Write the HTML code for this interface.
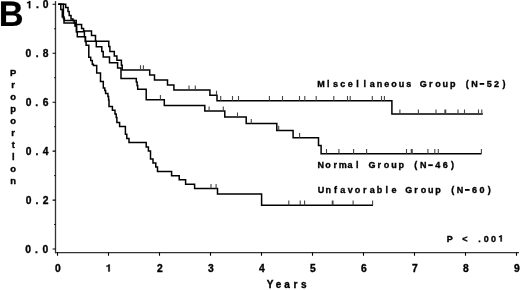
<!DOCTYPE html>
<html><head><meta charset="utf-8"><style>
html,body{margin:0;padding:0;background:#fff;}
svg{display:block;will-change:transform;}
path.g1{fill:#000;stroke:#000;stroke-width:0.35px;stroke-linejoin:round;}
text{font-family:"Liberation Sans",sans-serif;font-weight:bold;fill:#000;stroke:#000;stroke-width:0.35px;}
</style></head><body>
<svg width="520" height="290" viewBox="0 0 520 290">
<rect width="520" height="290" fill="#fff"/>
<text transform="translate(-1.2,25.6) scale(0.97,1)" style="font-size:35.5px;stroke-width:0.2px;text-rendering:geometricPrecision">B</text>
<g fill="none" stroke="#000" stroke-linejoin="miter" stroke-linecap="butt">
<path d="M55.5,1 V253.2" stroke-width="1.3" stroke="#333"/>
<path d="M55,252.6 H519" stroke-width="1.4" stroke="#333"/>
<path d="M52.6,249.0 H55.5 M52.6,200.1 H55.5 M52.6,151.1 H55.5 M52.6,102.2 H55.5 M52.6,53.2 H55.5 M52.6,4.3 H55.5" stroke-width="1.1"/>
<path d="M54.2,224.5 H55.5 M54.2,175.6 H55.5 M54.2,126.7 H55.5 M54.2,77.7 H55.5 M54.2,28.8 H55.5" stroke-width="1"/>
<path d="M57.5,252.5 V255.8 M108.5,252.5 V255.8 M159.5,252.5 V255.8 M210.5,252.5 V255.8 M261.5,252.5 V255.8 M312.5,252.5 V255.8 M363.5,252.5 V255.8 M414.5,252.5 V255.8 M465.5,252.5 V255.8 M516.5,252.5 V255.8" stroke-width="1.1"/>
<path d="M58.2,4.3 L65.7,4.3 L65.7,7.5 L68.0,7.5 L68.0,11.4 L69.2,11.4 L69.2,15.4 L71.0,15.4 L71.0,18.9 L73.0,18.9 L73.0,20.6 L76.2,20.6 L76.2,24.5 L81.6,24.5 L81.6,28.4 L83.6,28.4 L83.6,30.9 L91.5,30.9 L91.5,35.5 L95.5,35.5 L95.5,41.3 L108.8,41.3 L108.8,46.4 L109.9,46.4 L109.9,51.5 L114.3,51.5 L114.3,56.0 L116.9,56.0 L116.9,60.3 L121.4,60.3 L121.4,65.2 L122.2,65.2 L122.2,69.9 L149.7,69.9 L149.7,74.9 L154.5,74.9 L154.5,80.0 L167.5,80.0 L167.5,85.1 L173.9,85.1 L173.9,90.1 L209.9,90.1 L209.9,95.3 L217.0,95.3 L217.0,100.7 L391.9,100.7 L391.9,114.1 L482.8,114.1" stroke-width="1.5"/>
<path d="M58.2,4.3 L63.4,4.3 L63.4,18.6 L64.4,18.6 L64.4,20.6 L74.2,20.6 L74.2,23.0 L75.2,23.0 L75.2,26.0 L76.5,26.0 L76.5,31.8 L84.4,31.8 L84.4,36.8 L85.3,36.8 L85.3,41.3 L96.3,41.3 L96.3,46.8 L101.8,46.8 L101.8,51.5 L103.2,51.5 L103.2,56.9 L109.5,56.9 L109.5,62.7 L117.6,62.7 L117.6,68.1 L121.0,68.1 L121.0,78.4 L136.3,78.4 L136.3,82.0 L137.1,82.0 L137.1,85.5 L137.7,85.5 L137.7,89.3 L146.2,89.3 L146.2,99.7 L164.3,99.7 L164.3,105.6 L204.8,105.6 L204.8,110.9 L224.8,110.9 L224.8,117.0 L246.2,117.0 L246.2,123.5 L276.8,123.5 L276.8,130.4 L293.1,130.4 L293.1,137.7 L318.5,137.7 L318.5,145.4 L321.1,145.4 L321.1,153.7 L481.5,153.7" stroke-width="1.5"/>
<path d="M58.2,4.3 L60.8,4.3 L60.8,9.5 L62.3,9.5 L62.3,17.0 L64.0,17.0 L64.0,23.0 L75.2,23.0 L75.2,26.0 L76.5,26.0 L76.5,31.8 L77.3,31.8 L77.3,36.8 L85.5,36.8 L85.5,41.7 L86.1,41.7 L86.1,45.2 L88.8,45.2 L88.8,57.2 L90.7,57.2 L90.7,60.6 L92.3,60.6 L92.3,64.3 L93.4,64.3 L93.4,65.6 L96.7,65.6 L96.7,73.1 L100.5,73.1 L100.5,81.4 L103.3,81.4 L103.3,88.0 L104.8,88.0 L104.8,90.6 L105.6,90.6 L105.6,93.6 L107.9,93.6 L107.9,96.6 L108.6,96.6 L108.6,100.0 L109.0,100.0 L109.0,106.4 L112.4,106.4 L112.4,110.2 L115.0,110.2 L115.0,113.9 L116.2,113.9 L116.2,117.5 L116.9,117.5 L116.9,122.6 L119.6,122.6 L119.6,126.4 L125.4,126.4 L125.4,134.2 L126.8,134.2 L126.8,138.5 L129.0,138.5 L129.0,142.6 L146.2,142.6 L146.2,147.1 L148.4,147.1 L148.4,151.0 L150.5,151.0 L150.5,159.0 L153.0,159.0 L153.0,163.0 L155.8,163.0 L155.8,166.9 L157.5,166.9 L157.5,171.6 L171.6,171.6 L171.6,175.7 L179.2,175.7 L179.2,179.8 L185.6,179.8 L185.6,184.3 L194.6,184.3 L194.6,188.6 L217.5,188.6 L217.5,194.1 L261.6,194.1 L261.6,205.2 L373.0,205.2" stroke-width="1.5"/>
<path d="M140.5,69.9 V65.3 M143.4,69.9 V65.3 M189.0,90.1 V85.5 M195.3,90.1 V85.5 M216.5,95.3 V90.7 M220.7,100.7 V96.1 M232.5,100.7 V96.1 M238.5,100.7 V96.1 M269.4,100.7 V96.1 M282.5,100.7 V96.1 M299.5,100.7 V96.1 M304.8,100.7 V96.1 M316.2,100.7 V96.1 M333.8,100.7 V96.1 M347.5,100.7 V96.1 M350.2,100.7 V96.1 M372.3,100.7 V96.1 M381.5,100.7 V96.1 M384.4,100.7 V96.1 M399.9,114.1 V109.5 M418.4,114.1 V109.5 M436.0,114.1 V109.5 M444.9,114.1 V109.5 M445.7,114.1 V109.5 M458.0,114.1 V109.5 M464.5,114.1 V109.5 M478.5,114.1 V109.5 M481.8,114.1 V109.5 M160.4,99.7 V95.1 M209.1,111.0 V106.4 M223.3,111.0 V106.4 M237.5,117.0 V112.4 M251.3,123.5 V118.9 M278.7,130.4 V125.8 M299.6,137.7 V133.1 M326.5,153.7 V149.1 M338.9,153.7 V149.1 M353.6,153.7 V149.1 M366.6,153.7 V149.1 M406.5,153.7 V149.1 M411.3,153.7 V149.1 M412.2,153.7 V149.1 M427.9,153.7 V149.1 M434.8,153.7 V149.1 M438.3,153.7 V149.1 M481.4,153.7 V149.1 M211.0,188.6 V184.0 M216.1,188.6 V184.0 M288.8,205.2 V200.6 M300.2,205.2 V200.6 M304.6,205.2 V200.6 M332.3,205.2 V200.6 M333.0,205.2 V200.6 M353.1,205.2 V200.6 M372.6,205.2 V200.6" stroke-width="1.1" stroke="#444"/>
</g>
<text x="28.05 36.35 45.30" y="252.9" text-anchor="middle" style="font-size:10.3px">0.0</text>
<text x="28.50 36.90 45.50" y="204.0" text-anchor="middle" style="font-size:10.3px">0.2</text>
<text x="28.50 36.90 45.50" y="155.0" text-anchor="middle" style="font-size:10.3px">0.4</text>
<text x="28.60 36.75 45.60" y="106.1" text-anchor="middle" style="font-size:10.3px">0.6</text>
<text x="28.45 37.25 45.50" y="57.1" text-anchor="middle" style="font-size:10.3px">0.8</text>
<path class="g1" d="M28.91,8.20 L30.25,8.20 L30.25,1.09 L29.22,1.09 L28.91,1.61 L28.29,2.02 L27.05,2.33 L27.05,3.26 L28.91,2.95 Z"/>
<text x="37.40 45.60" y="8.2" text-anchor="middle" style="font-size:10.3px">.0</text>
<text x="57.90" y="271.6" text-anchor="middle" style="font-size:10.3px">0</text>
<path class="g1" d="M108.36,271.60 L109.70,271.60 L109.70,264.49 L108.67,264.49 L108.36,265.01 L107.74,265.42 L106.50,265.73 L106.50,266.66 L108.36,266.35 Z"/>
<text x="159.90" y="271.6" text-anchor="middle" style="font-size:10.3px">2</text>
<text x="210.90" y="271.6" text-anchor="middle" style="font-size:10.3px">3</text>
<text x="261.90" y="271.6" text-anchor="middle" style="font-size:10.3px">4</text>
<text x="312.90" y="271.6" text-anchor="middle" style="font-size:10.3px">5</text>
<text x="363.90" y="271.6" text-anchor="middle" style="font-size:10.3px">6</text>
<text x="414.90" y="271.6" text-anchor="middle" style="font-size:10.3px">7</text>
<text x="465.90" y="271.6" text-anchor="middle" style="font-size:10.3px">8</text>
<text x="516.90" y="271.6" text-anchor="middle" style="font-size:10.3px">9</text>
<text x="13.20" y="76.20" text-anchor="middle" style="font-size:9.4px">P</text>
<text x="13.20" y="88.15" text-anchor="middle" style="font-size:9.4px">r</text>
<text x="13.20" y="100.10" text-anchor="middle" style="font-size:9.4px">o</text>
<text x="13.20" y="112.05" text-anchor="middle" style="font-size:9.4px">p</text>
<text x="13.20" y="124.00" text-anchor="middle" style="font-size:9.4px">o</text>
<text x="13.20" y="135.95" text-anchor="middle" style="font-size:9.4px">r</text>
<text x="13.20" y="147.90" text-anchor="middle" style="font-size:9.4px">t</text>
<text x="13.20" y="159.85" text-anchor="middle" style="font-size:9.4px">l</text>
<text x="13.20" y="171.80" text-anchor="middle" style="font-size:9.4px">o</text>
<text x="13.20" y="183.75" text-anchor="middle" style="font-size:9.4px">n</text>
<rect x="479.64" y="83.00" width="4.6" height="1.8" fill="#000"/>
<text x="320.90 328.22 335.54 342.86 350.18 357.50 364.82 372.14 379.46 386.78 394.10 401.42 408.74 423.38 430.70 438.02 445.34 452.66 467.30 474.62 489.26 496.58 503.90" y="86.5" text-anchor="middle" style="font-size:9.0px">MlscellaneousGroup(N52)</text>
<rect x="428.20" y="164.30" width="4.6" height="1.8" fill="#000"/>
<text x="320.70 328.02 335.34 342.66 349.98 357.30 371.94 379.26 386.58 393.90 401.22 415.86 423.18 437.82 445.14 452.46" y="167.8" text-anchor="middle" style="font-size:9.0px">NormalGroup(N46)</text>
<rect x="465.00" y="189.00" width="4.6" height="1.8" fill="#000"/>
<text x="320.90 328.22 335.54 342.86 350.18 357.50 364.82 372.14 379.46 386.78 394.10 408.74 416.06 423.38 430.70 438.02 452.66 459.98 474.62 481.94 489.26" y="192.5" text-anchor="middle" style="font-size:9.0px">UnfavorableGroup(N60)</text>
<path class="g1" d="M500.58,241.50 L501.75,241.50 L501.75,235.29 L500.85,235.29 L500.58,235.74 L500.04,236.10 L498.96,236.37 L498.96,237.18 L500.58,236.91 Z"/>
<text x="449.70 465.00 479.40 486.35 493.50" y="241.5" text-anchor="middle" style="font-size:9.0px">P&lt;.00</text>
<text x="270.20 278.60 287.00 295.40 303.80" y="288.0" text-anchor="middle" style="font-size:10px">Years</text>

</svg>
</body></html>
